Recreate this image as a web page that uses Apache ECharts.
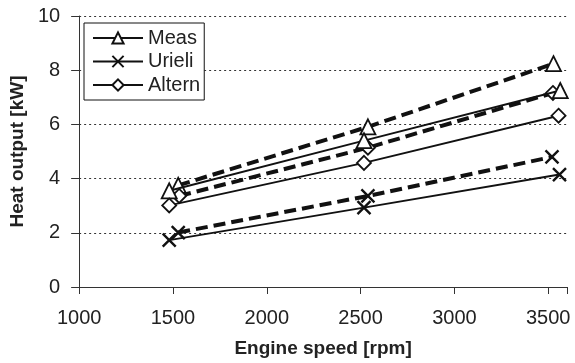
<!DOCTYPE html>
<html><head><meta charset="utf-8">
<script src="https://cdn.jsdelivr.net/npm/echarts@6/dist/echarts.min.js"></script>
<style>html,body{margin:0;padding:0;background:#fff}#c{width:575px;height:363px}</style>
</head><body><div id="c"></div>
<script>
const xTicks = [1000, 1500, 2000, 2500, 3000, 3500];
const yTicks = [0, 2, 4, 6, 8, 10];
// solid series
const measSolid = [[1480, 3.55], [2518, 5.40], [3564, 7.25]];
const urieliSolid = [[1480, 1.73], [2518, 2.93], [3560, 4.15]];
const alternSolid = [[1480, 3.01], [2518, 4.58], [3555, 6.32]];
// dashed series
const measDashed = [[1528, 3.75], [2539, 5.91], [3528, 8.24]];
const urieliDashed = [[1528, 2.01], [2539, 3.36], [3520, 4.80]];
const alternDashed = [[1533, 3.36], [2539, 5.14], [3525, 7.16]];

const crossPath = 'path://M0,0L10,10M10,0L0,10';
const font = 'Liberation Sans, Arial, sans-serif';
function mk(name, data, symbol, size, dashed) {
  return {
    name: name, type: 'line', data: data, symbol: symbol, symbolSize: size,
    showAllSymbol: true, z: dashed ? 2 : 3,
    lineStyle: dashed ? {color: '#111', width: 4, type: [12, 6]} : {color: '#111', width: 1.9},
    itemStyle: {color: '#fff', borderColor: '#111', borderWidth: symbol === crossPath ? 2.4 : 1.8},
    emphasis: {disabled: true}
  };
}
const chart = echarts.init(document.getElementById('c'), null, {renderer: 'canvas'});
chart.setOption({
  animation: false,
  grid: {left: 78, right: 8, top: 16, bottom: 75},
  legend: {
    data: ['Meas', 'Urieli', 'Altern'], orient: 'vertical', left: 84, top: 23,
    backgroundColor: '#fff', borderColor: '#111', borderWidth: 1, padding: [5, 4, 5, 8],
    itemWidth: 50, itemHeight: 14, itemGap: 3.5,
    textStyle: {fontFamily: font, fontSize: 20, lineHeight: 20, color: '#222'}
  },
  xAxis: {
    type: 'value', min: 1000, max: 3600, interval: 500,
    name: 'Engine speed [rpm]', nameLocation: 'middle', nameGap: 52,
    nameTextStyle: {fontFamily: font, fontSize: 19, fontWeight: 'bold', color: '#222'},
    axisLine: {show: true, lineStyle: {color: '#333', width: 1}},
    axisTick: {show: true, inside: false, length: 7, lineStyle: {color: '#333'}},
    axisLabel: {fontFamily: font, fontSize: 20, color: '#222', margin: 21,
      formatter: v => xTicks.includes(v) ? String(v) : ''},
    splitLine: {show: false}
  },
  yAxis: {
    type: 'value', min: 0, max: 10, interval: 2,
    name: 'Heat output [kW]', nameLocation: 'middle', nameGap: 48,
    nameTextStyle: {fontFamily: font, fontSize: 19, fontWeight: 'bold', color: '#222'},
    axisLine: {show: true, lineStyle: {color: '#333', width: 1}},
    axisTick: {show: true, inside: false, length: 8, lineStyle: {color: '#333'}},
    axisLabel: {fontFamily: font, fontSize: 20, color: '#222', margin: 19,
      formatter: v => yTicks.includes(v) ? String(v) : ''},
    splitLine: {show: true, lineStyle: {color: '#333', width: 1, type: [2, 3]}}
  },
  series: [
    mk('Meas', measSolid, 'triangle', 15, false),
    mk('Urieli', urieliSolid, crossPath, 13, false),
    mk('Altern', alternSolid, 'diamond', 14, false),
    mk('Meas2', measDashed, 'triangle', 15, true),
    mk('Urieli2', urieliDashed, crossPath, 13, true),
    mk('Altern2', alternDashed, 'diamond', 14, true)
  ]
});
</script></body></html>
